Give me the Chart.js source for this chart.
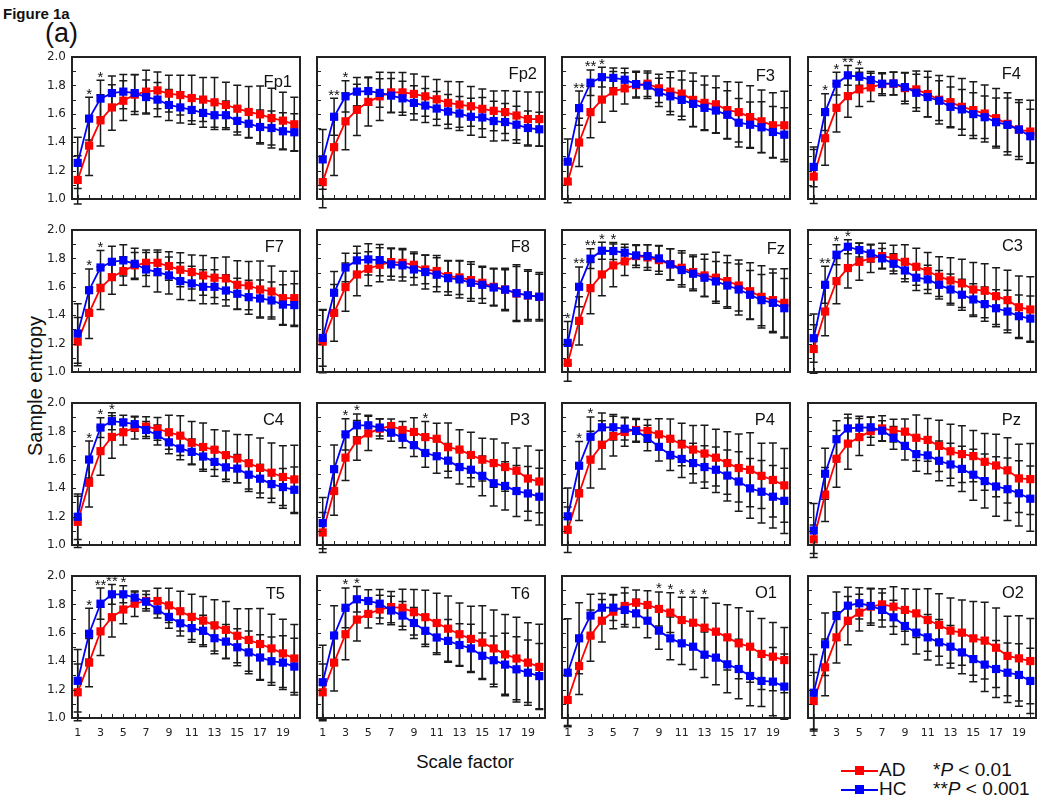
<!DOCTYPE html>
<html><head><meta charset="utf-8">
<script src="https://cdn.jsdelivr.net/npm/chart.js@4.4.1/dist/chart.umd.min.js"></script>
<style>
body{margin:0;background:#fff;}
#wrap{position:relative;width:1050px;height:812px;overflow:hidden;font-family:"Liberation Sans",Arial,sans-serif;color:#111;background:#fff;}
.t{position:absolute;white-space:nowrap;line-height:1;}
canvas{position:absolute;}
.ln{position:absolute;height:2px;}
.sq{position:absolute;width:9px;height:9px;}
</style></head><body><div id="wrap">
<div class="t" style="left:3px;top:5.6px;font-size:15px;font-weight:bold;">Figure 1a</div>
<div class="t" style="left:45px;top:19.6px;font-size:27px;">(a)</div>
<div class="t" style="left:35px;top:386px;font-size:20px;transform:translate(-50%,-50%) rotate(-90deg);">Sample entropy</div>
<div class="t" style="left:465px;top:753px;font-size:18.5px;transform:translateX(-50%);">Scale factor</div>
<div class="ln" style="left:841px;top:769.7px;width:37px;background:#ff0000;"></div>
<div class="sq" style="left:854.5px;top:766.2px;background:#ff0000;"></div>
<div class="t" style="left:879px;top:760px;font-size:19px;">AD</div>
<div class="t" style="left:933px;top:760px;font-size:19px;">*<i>P</i> &lt; 0.01</div>
<div class="ln" style="left:841px;top:788.5px;width:37px;background:#0000ff;"></div>
<div class="sq" style="left:854.5px;top:785px;background:#0000ff;"></div>
<div class="t" style="left:879px;top:778.5px;font-size:19px;">HC</div>
<div class="t" style="left:933px;top:778.5px;font-size:19px;">**<i>P</i> &lt; 0.001</div>
</div>
<script>
// ---------- data ----------
const scaleFactors = ['1','2','3','4','5','6','7','8','9','10','11','12','13','14','15','16','17','18','19','20'];
const xTickLabels = ['1','3','5','7','9','11','13','15','17','19'];
const yTickLabels = ['1.0','1.2','1.4','1.6','1.8','2.0'];
const channels = ['Fp1','Fp2','F3','F4','F7','F8','Fz','C3','C4','P3','P4','Pz','T5','T6','O1','O2'];

// AD mean sample entropy per channel (rows follow channels)
const adMean = [
 [1.134,1.376,1.554,1.645,1.692,1.735,1.756,1.765,1.742,1.732,1.711,1.700,1.681,1.662,1.636,1.613,1.596,1.570,1.552,1.526],
 [1.119,1.365,1.547,1.628,1.684,1.723,1.751,1.751,1.740,1.723,1.702,1.677,1.665,1.653,1.635,1.621,1.612,1.588,1.563,1.563],
 [1.123,1.398,1.612,1.700,1.758,1.779,1.802,1.812,1.779,1.756,1.742,1.698,1.677,1.667,1.626,1.612,1.577,1.547,1.519,1.519],
 [1.158,1.428,1.642,1.725,1.772,1.786,1.809,1.812,1.781,1.772,1.739,1.699,1.682,1.649,1.626,1.602,1.569,1.529,1.489,1.475],
 [1.214,1.416,1.591,1.668,1.711,1.751,1.769,1.769,1.746,1.720,1.704,1.680,1.664,1.659,1.614,1.609,1.581,1.567,1.520,1.520],
 [1.214,1.416,1.598,1.687,1.727,1.755,1.774,1.769,1.755,1.722,1.711,1.675,1.666,1.647,1.628,1.600,1.581,1.553,1.539,1.529],
 [1.064,1.360,1.591,1.687,1.751,1.779,1.816,1.807,1.788,1.758,1.734,1.704,1.680,1.664,1.640,1.609,1.569,1.529,1.506,1.487],
 [1.162,1.426,1.640,1.732,1.776,1.800,1.816,1.802,1.776,1.741,1.711,1.671,1.645,1.624,1.581,1.572,1.534,1.506,1.456,1.440],
 [1.163,1.438,1.661,1.761,1.794,1.827,1.834,1.818,1.794,1.770,1.720,1.690,1.671,1.633,1.609,1.576,1.543,1.509,1.479,1.462],
 [1.088,1.380,1.615,1.736,1.786,1.819,1.838,1.810,1.796,1.760,1.748,1.689,1.672,1.634,1.601,1.577,1.549,1.523,1.468,1.447],
 [1.107,1.363,1.601,1.705,1.767,1.796,1.810,1.803,1.779,1.748,1.708,1.672,1.644,1.615,1.577,1.542,1.530,1.487,1.458,1.420],
 [1.040,1.355,1.607,1.714,1.760,1.802,1.821,1.805,1.798,1.755,1.740,1.698,1.660,1.640,1.626,1.586,1.560,1.526,1.469,1.464],
 [1.181,1.390,1.610,1.710,1.764,1.805,1.824,1.824,1.793,1.752,1.712,1.686,1.652,1.621,1.579,1.550,1.521,1.490,1.455,1.419],
 [1.181,1.390,1.590,1.693,1.733,1.764,1.781,1.776,1.745,1.710,1.669,1.629,1.590,1.557,1.531,1.490,1.448,1.419,1.390,1.360],
 [1.127,1.366,1.580,1.685,1.749,1.789,1.812,1.796,1.768,1.742,1.690,1.671,1.636,1.608,1.568,1.526,1.502,1.451,1.432,1.408],
 [1.120,1.357,1.568,1.685,1.742,1.784,1.800,1.784,1.761,1.737,1.690,1.655,1.615,1.601,1.561,1.545,1.495,1.437,1.420,1.401]
];
// AD standard deviation
const adSD = [
 [.17,.21,.18,.16,.14,.14,.15,.13,.13,.14,.16,.155,.175,.16,.165,.18,.2,.21,.2,.19],
 [.18,.2,.2,.18,.17,.17,.14,.14,.14,.14,.14,.15,.16,.14,.14,.14,.15,.17,.19,.19],
 [.15,.17,.18,.16,.14,.11,.09,.09,.1,.14,.16,.19,.19,.2,.2,.21,.22,.22,.23,.24],
 [.19,.19,.17,.15,.12,.1,.08,.08,.11,.13,.16,.17,.18,.2,.2,.2,.21,.22,.21,.22],
 [.17,.18,.15,.12,.1,.09,.09,.09,.1,.12,.12,.14,.14,.15,.17,.17,.2,.18,.19,.19],
 [.22,.2,.17,.15,.12,.12,.1,.1,.09,.1,.11,.11,.12,.13,.11,.13,.15,.19,.17,.16],
 [.13,.17,.18,.15,.15,.1,.08,.09,.1,.11,.12,.12,.15,.18,.18,.18,.2,.22,.22,.24],
 [.17,.17,.16,.14,.13,.1,.09,.09,.12,.13,.13,.14,.16,.17,.19,.19,.2,.21,.22,.23],
 [.18,.17,.17,.15,.09,.08,.07,.08,.12,.14,.15,.17,.14,.17,.17,.2,.21,.21,.22,.24],
 [.14,.17,.16,.14,.12,.07,.05,.06,.1,.11,.11,.17,.14,.16,.15,.17,.17,.16,.23,.22],
 [.16,.19,.2,.17,.14,.1,.08,.08,.11,.14,.15,.17,.2,.2,.22,.24,.26,.23,.26,.26],
 [.1,.19,.2,.18,.13,.1,.09,.08,.09,.16,.15,.18,.19,.2,.18,.2,.22,.23,.24,.25],
 [.2,.17,.17,.14,.1,.09,.07,.09,.12,.14,.16,.17,.18,.2,.19,.22,.25,.24,.24,.24],
 [.2,.2,.18,.15,.1,.1,.11,.13,.16,.19,.21,.23,.22,.23,.26,.27,.28,.29,.28,.3],
 [.18,.2,.18,.15,.12,.13,.09,.1,.12,.14,.16,.18,.21,.2,.23,.25,.25,.25,.24,.23],
 [.2,.2,.18,.17,.13,.13,.11,.14,.15,.17,.22,.22,.23,.23,.26,.27,.28,.28,.3,.3]
];
// HC mean sample entropy
const hcMean = [
 [1.254,1.566,1.707,1.746,1.756,1.746,1.718,1.700,1.662,1.645,1.627,1.606,1.590,1.590,1.550,1.530,1.507,1.500,1.477,1.470],
 [1.279,1.579,1.723,1.756,1.760,1.747,1.728,1.709,1.677,1.658,1.637,1.616,1.602,1.579,1.574,1.549,1.542,1.523,1.500,1.491],
 [1.263,1.640,1.819,1.858,1.853,1.840,1.809,1.798,1.751,1.723,1.698,1.670,1.642,1.623,1.593,1.537,1.523,1.505,1.472,1.453],
 [1.226,1.612,1.812,1.871,1.861,1.838,1.812,1.814,1.788,1.748,1.718,1.692,1.649,1.631,1.598,1.576,1.541,1.522,1.489,1.442],
 [1.271,1.576,1.736,1.776,1.786,1.762,1.722,1.704,1.680,1.640,1.624,1.600,1.600,1.574,1.551,1.527,1.518,1.504,1.475,1.471],
 [1.240,1.558,1.736,1.786,1.793,1.788,1.758,1.751,1.722,1.704,1.685,1.661,1.652,1.628,1.614,1.595,1.580,1.555,1.540,1.530],
 [1.205,1.600,1.798,1.854,1.852,1.840,1.821,1.816,1.800,1.758,1.718,1.692,1.664,1.638,1.609,1.581,1.544,1.506,1.487,1.449],
 [1.238,1.614,1.826,1.882,1.859,1.835,1.800,1.762,1.715,1.664,1.652,1.614,1.581,1.544,1.511,1.478,1.449,1.426,1.393,1.376],
 [1.199,1.602,1.827,1.872,1.863,1.851,1.810,1.775,1.723,1.680,1.656,1.623,1.585,1.547,1.538,1.495,1.467,1.429,1.408,1.389],
 [1.154,1.534,1.779,1.843,1.843,1.827,1.791,1.755,1.703,1.648,1.625,1.594,1.549,1.530,1.487,1.435,1.416,1.380,1.363,1.340],
 [1.202,1.558,1.762,1.829,1.829,1.819,1.803,1.753,1.691,1.634,1.606,1.577,1.549,1.530,1.489,1.447,1.399,1.375,1.340,1.311],
 [1.102,1.502,1.745,1.821,1.826,1.829,1.805,1.755,1.698,1.640,1.631,1.593,1.567,1.536,1.495,1.450,1.412,1.393,1.364,1.326],
 [1.262,1.593,1.805,1.871,1.871,1.848,1.819,1.764,1.712,1.667,1.633,1.614,1.562,1.538,1.498,1.462,1.426,1.400,1.390,1.362],
 [1.252,1.581,1.776,1.836,1.824,1.805,1.757,1.721,1.669,1.614,1.567,1.543,1.514,1.490,1.438,1.407,1.376,1.343,1.319,1.295],
 [1.319,1.561,1.721,1.777,1.777,1.761,1.737,1.685,1.615,1.561,1.526,1.502,1.446,1.425,1.378,1.345,1.296,1.261,1.256,1.221],
 [1.178,1.519,1.718,1.791,1.808,1.789,1.761,1.709,1.648,1.601,1.568,1.533,1.502,1.462,1.415,1.376,1.345,1.319,1.303,1.261]
];
// HC standard deviation
const hcSD = [
 [.18,.15,.13,.12,.12,.13,.12,.12,.11,.11,.1,.1,.1,.1,.1,.1,.12,.12,.13,.13],
 [.21,.13,.11,.1,.1,.1,.12,.12,.12,.12,.12,.12,.12,.13,.14,.14,.13,.13,.12,.12],
 [.16,.12,.09,.07,.07,.08,.09,.09,.1,.13,.14,.16,.16,.16,.17,.17,.16,.18,.18,.19],
 [.14,.13,.08,.07,.06,.06,.07,.08,.1,.13,.14,.14,.14,.14,.15,.15,.17,.19,.19,.19],
 [.21,.15,.12,.11,.11,.11,.12,.14,.13,.13,.12,.12,.12,.11,.11,.12,.13,.13,.14,.15],
 [.2,.15,.1,.1,.11,.11,.11,.11,.11,.12,.12,.12,.13,.13,.13,.13,.14,.2,.18,.17],
 [.15,.14,.07,.06,.06,.06,.07,.08,.09,.11,.12,.12,.13,.14,.16,.18,.17,.18,.21,.21],
 [.17,.13,.07,.05,.05,.06,.07,.07,.08,.09,.1,.1,.11,.11,.11,.12,.13,.15,.15,.16],
 [.16,.13,.07,.06,.05,.05,.06,.07,.08,.08,.09,.09,.1,.1,.1,.1,.1,.1,.13,.16],
 [.18,.17,.11,.08,.07,.06,.06,.07,.08,.1,.12,.12,.12,.12,.14,.16,.17,.18,.19,.2],
 [.2,.17,.14,.1,.09,.08,.08,.09,.1,.11,.13,.14,.15,.16,.18,.21,.21,.22,.22,.23],
 [.19,.18,.13,.1,.08,.07,.07,.08,.1,.12,.13,.14,.15,.16,.18,.19,.21,.22,.23,.23],
 [.22,.18,.11,.07,.06,.04,.05,.06,.08,.09,.1,.11,.11,.12,.13,.15,.16,.17,.19,.2],
 [.26,.21,.14,.09,.08,.1,.1,.1,.11,.11,.12,.15,.15,.17,.16,.17,.22,.23,.23,.23],
 [.38,.25,.15,.1,.09,.12,.1,.12,.13,.15,.15,.16,.16,.19,.2,.21,.21,.18,.24,.23],
 [.27,.22,.17,.13,.11,.12,.12,.12,.13,.15,.16,.16,.15,.15,.16,.19,.2,.21,.22,.23]
];
// significance markers: [channel, scale factor, marker]
const stars = [
 ['Fp1','2','*'],['Fp1','3','*'],
 ['Fp2','2','**'],['Fp2','3','*'],
 ['F3','2','**'],['F3','3','**'],['F3','4','*'],
 ['F4','2','*'],['F4','3','*'],['F4','4','**'],['F4','5','*'],
 ['F7','2','*'],['F7','3','*'],
 ['Fz','1','*'],['Fz','2','**'],['Fz','3','**'],['Fz','4','*'],['Fz','5','*'],
 ['C3','2','**'],['C3','3','*'],['C3','4','*'],
 ['C4','2','*'],['C4','3','*'],['C4','4','*'],
 ['P3','3','*'],['P3','4','*'],['P3','10','*'],
 ['P4','2','*'],['P4','3','*'],
 ['T5','2','*'],['T5','3','**'],['T5','4','**'],['T5','5','*'],
 ['T6','3','*'],['T6','4','*'],
 ['O1','9','*'],['O1','10','*'],['O1','11','*'],['O1','12','*'],['O1','13','*']
];

// ---------- layout ----------
const colLeft = [72, 317, 562, 808], rowTop = [57, 230, 403, 576];
const PW = 228, PH = 142, PADL = 44, PADT = 14, PADR = 8, PADB = 30;
const labelRight = [8,8,15,15,16,15,5,13,16,15,15,15,15,15,13,12];
const labelBase  = [30,22,23.5,22,22,22,23.5,21,21.5,21.5,21.5,21.5,23,23,22,22];
const RED = '#ff0000', BLUE = '#0000ff', INK = '#1a1a1a';

function panelPlugin(c) {
  return {
    id: 'panel' + c,
    beforeDatasetsDraw(chart) {
      const ctx = chart.ctx, xs = chart.scales.x, ys = chart.scales.y;
      ctx.save();
      ctx.strokeStyle = INK; ctx.lineWidth = 1.5;
      chart.data.datasets.forEach(ds => {
        ds.data.forEach((m, i) => {
          const px = xs.getPixelForValue(i);
          const t = ys.getPixelForValue(m + ds.sd[i]);
          const b = ys.getPixelForValue(m - ds.sd[i]);
          ctx.beginPath();
          ctx.moveTo(px, t); ctx.lineTo(px, b);
          ctx.moveTo(px - 4, t); ctx.lineTo(px + 4, t);
          ctx.moveTo(px - 4, b); ctx.lineTo(px + 4, b);
          ctx.stroke();
        });
      });
      ctx.restore();
    },
    afterDatasetsDraw(chart) {
      const ctx = chart.ctx, xs = chart.scales.x, ys = chart.scales.y, a = chart.chartArea;
      ctx.save();
      ctx.strokeStyle = '#222'; ctx.lineWidth = 2;
      ctx.strokeRect(a.left, a.top, a.right - a.left, a.bottom - a.top);
      ctx.lineWidth = 1;
      ctx.beginPath();
      for (let k = 1; k < 10; k++) {
        const py = Math.round(ys.getPixelForValue(1 + k / 10)) + 0.5;
        ctx.moveTo(a.left, py); ctx.lineTo(a.left + 4, py);
      }
      scaleFactors.forEach((s, i) => {
        const px = Math.round(xs.getPixelForValue(i)) + 0.5;
        ctx.moveTo(px, a.bottom); ctx.lineTo(px, a.bottom - 4);
      });
      ctx.stroke();
      // channel label
      ctx.fillStyle = '#111';
      ctx.font = '16.5px "Liberation Sans", Arial, sans-serif';
      ctx.textAlign = 'right'; ctx.textBaseline = 'alphabetic';
      ctx.fillText(channels[c], a.right - labelRight[c], a.top + labelBase[c]);
      // significance markers
      ctx.font = '15px "Liberation Sans", Arial, sans-serif';
      ctx.textAlign = 'center';
      stars.filter(s => s[0] === channels[c]).forEach(s => {
        const i = scaleFactors.indexOf(s[1]);
        const top = Math.min(ys.getPixelForValue(adMean[c][i] + adSD[c][i]),
                             ys.getPixelForValue(hcMean[c][i] + hcSD[c][i]));
        ctx.fillText(s[2], xs.getPixelForValue(i), top + 1.5);
      });
      ctx.restore();
    }
  };
}

const wrap = document.getElementById('wrap');
channels.forEach((name, c) => {
  const row = Math.floor(c / 4), col = c % 4;
  const cv = document.createElement('canvas');
  const W = PW + PADL + PADR, H = PH + PADT + PADB;
  cv.width = W; cv.height = H;
  cv.style.width = W + 'px'; cv.style.height = H + 'px';
  cv.style.left = (colLeft[col] - PADL) + 'px';
  cv.style.top = (rowTop[row] - PADT) + 'px';
  wrap.appendChild(cv);
  const common = { borderWidth: 1.8, pointStyle: 'rect', pointRadius: 5.8, pointBorderWidth: 0,
                   tension: 0, clip: false };
  new Chart(cv, {
    type: 'line',
    data: {
      labels: scaleFactors,
      datasets: [
        Object.assign({ label: 'HC', data: hcMean[c], sd: hcSD[c], borderColor: BLUE, backgroundColor: BLUE,
                        pointBackgroundColor: BLUE }, common),
        Object.assign({ label: 'AD', data: adMean[c], sd: adSD[c], borderColor: RED, backgroundColor: RED,
                        pointBackgroundColor: RED }, common)
      ]
    },
    options: {
      responsive: false, animation: false, devicePixelRatio: 1,
      layout: { padding: { top: PADT, right: PADR, left: 0, bottom: 0 } },
      plugins: { legend: { display: false }, tooltip: { enabled: false } },
      scales: {
        x: {
          type: 'category', offset: true,
          grid: { display: false, drawTicks: false }, border: { display: false },
          ticks: { display: row === 3, autoSkip: false, maxRotation: 0, minRotation: 0, padding: 9,
                   color: '#222', font: { family: 'DejaVu Sans', size: 11 },
                   callback: (v, i) => xTickLabels.includes(scaleFactors[i]) ? scaleFactors[i] : '' },
          afterFit: s => { s.height = PADB; }
        },
        y: {
          min: 1, max: 2,
          grid: { display: false, drawTicks: false }, border: { display: false },
          afterBuildTicks: s => { s.ticks = yTickLabels.map(t => ({ value: parseFloat(t) })); },
          ticks: { display: col === 0, padding: 6, color: '#222',
                   font: { family: 'DejaVu Sans', size: 12 },
                   callback: v => v.toFixed(1) },
          afterFit: s => { s.width = PADL; }
        }
      }
    },
    plugins: [panelPlugin(c)]
  });
});
</script>
</body></html>
